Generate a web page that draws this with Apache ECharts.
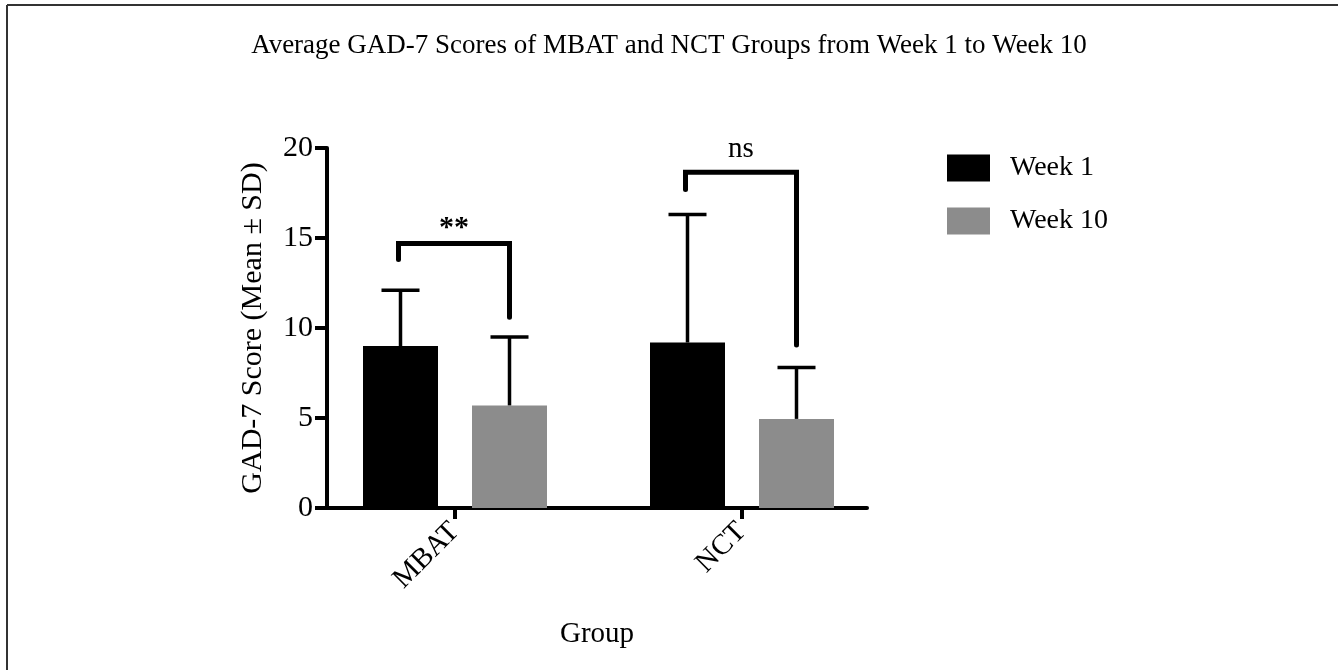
<!DOCTYPE html>
<html>
<head>
<meta charset="utf-8">
<script src="https://cdn.jsdelivr.net/npm/echarts@6/dist/echarts.min.js"></script>
<style>
html,body{margin:0;padding:0;background:#fff;}
#main{width:1338px;height:670px;}
</style>
</head>
<body>
<div id="main"></div>
<script>
// ---- data ----
const categories = ['MBAT', 'NCT'];
const groupPositions = [1, 2];
const week1Mean = [9.0, 9.2];
const week1SD = [3.1, 7.1];
const week10Mean = [5.7, 4.95];
const week10SD = [3.8, 2.85];
// bracket: [leftLegBottom, rightLegBottom, top]
const bracketLeftBottom = [13.8, 17.7];
const bracketRightBottom = [10.6, 9.05];
const bracketTop = [14.7, 18.65];
const significance = ['**', 'ns'];
const yTicks = [0, 5, 10, 15, 20];
const seriesNames = ['Week 1', 'Week 10'];

const FONT = "'Liberation Serif', 'Times New Roman', serif";
const BAR_W = 75, BAR_GAP = 34;
const HALF = (BAR_W + BAR_GAP) / 2;

const chart = echarts.init(document.getElementById('main'), null, {renderer: 'canvas'});

function barData(means) {
  return groupPositions.map((x, i) => [x, means[i]]);
}
function errData(means, sds) {
  return groupPositions.map((x, i) => [x, means[i], means[i] + sds[i]]);
}
function errorRender(dx) {
  return function (params, api) {
    const x = api.value(0);
    const base = api.coord([x, api.value(1)]);
    const top = api.coord([x, api.value(2)]);
    const cx = base[0] + dx;
    const style = {stroke: '#000', lineWidth: 3.5};
    return {
      type: 'group',
      children: [
        {type: 'line', shape: {x1: cx, y1: base[1], x2: cx, y2: top[1]}, style},
        {type: 'line', shape: {x1: cx - 19, y1: top[1], x2: cx + 19, y2: top[1]}, style}
      ]
    };
  };
}

const bracketData = groupPositions.map((x, i) => [x, bracketLeftBottom[i], bracketRightBottom[i], bracketTop[i], significance[i]]);

const option = {
  backgroundColor: '#fff',
  animation: false,
  title: {
    text: 'Average GAD-7 Scores of MBAT and NCT Groups from Week 1 to Week 10',
    left: 'center',
    top: 27,
    textStyle: {fontFamily: FONT, fontSize: 27, fontWeight: 'normal', color: '#000'}
  },
  legend: {
    orient: 'vertical',
    left: 947,
    top: 154,
    itemWidth: 43,
    itemHeight: 27,
    itemGap: 25,
    padding: 0,
    icon: 'rect',
    data: seriesNames,
    textStyle: {fontFamily: FONT, fontSize: 28, color: '#000', padding: [0, 0, 0, 15], lineHeight: 27}
  },
  grid: {left: 327, top: 148, width: 540, height: 360, containLabel: false},
  xAxis: {
    type: 'value',
    min: 1 - 128 / 287,
    max: 2 + 125 / 287,
    splitLine: {show: false},
    axisLine: {show: true, lineStyle: {color: '#000', width: 4}},
    axisTick: {show: true, inside: false, length: 11, lineStyle: {color: '#000', width: 4}, customValues: groupPositions},
    axisLabel: {
      customValues: groupPositions,
      rotate: 45,
      margin: 19,
      fontFamily: FONT,
      fontSize: 29,
      color: '#000',
      formatter: function (v) {
        const idx = groupPositions.indexOf(Math.round(v));
        return idx >= 0 ? categories[idx] : '';
      }
    },
    name: 'Group',
    nameLocation: 'middle',
    nameGap: 112,
    nameTextStyle: {fontFamily: FONT, fontSize: 29, color: '#000'}
  },
  yAxis: {
    type: 'value',
    min: yTicks[0],
    max: yTicks[yTicks.length - 1],
    interval: 5,
    splitLine: {show: false},
    axisLine: {show: true, lineStyle: {color: '#000', width: 4}},
    axisTick: {show: true, inside: false, length: 12, lineStyle: {color: '#000', width: 4}},
    axisLabel: {margin: 14, fontFamily: FONT, fontSize: 30, color: '#000'},
    name: 'GAD-7 Score (Mean ± SD)',
    nameLocation: 'middle',
    nameGap: 59,
    nameTextStyle: {fontFamily: FONT, fontSize: 30, color: '#000'}
  },
  series: [
    {
      name: seriesNames[0], type: 'bar', data: barData(week1Mean),
      barWidth: BAR_W, barGap: (BAR_GAP / BAR_W * 100) + '%',
      itemStyle: {color: '#000'}, z: 2
    },
    {
      name: seriesNames[1], type: 'bar', data: barData(week10Mean),
      barWidth: BAR_W, barGap: (BAR_GAP / BAR_W * 100) + '%',
      itemStyle: {color: '#8c8c8c'}, z: 2
    },
    {
      type: 'custom', name: 'err1', data: errData(week1Mean, week1SD),
      renderItem: errorRender(-HALF), z: 3, silent: true,
      encode: {x: 0, y: [1, 2]}
    },
    {
      type: 'custom', name: 'err10', data: errData(week10Mean, week10SD),
      renderItem: errorRender(HALF), z: 3, silent: true,
      encode: {x: 0, y: [1, 2]}
    },
    {
      type: 'custom', name: 'brackets', data: bracketData, silent: true, z: 4,
      encode: {x: 0, y: [1, 2, 3]},
      renderItem: function (params, api) {
        const x = api.value(0);
        const lb = api.coord([x, api.value(1)]);
        const rb = api.coord([x, api.value(2)]);
        const tp = api.coord([x, api.value(3)]);
        const lx = lb[0] - HALF - 2, rx = rb[0] + HALF;
        const label = bracketData[params.dataIndex][4];
        return {
          type: 'group',
          children: [
            {
              type: 'polyline',
              shape: {points: [[lx, lb[1]], [lx, tp[1]], [rx, tp[1]], [rx, rb[1]]]},
              style: {stroke: '#000', lineWidth: 5, lineCap: 'round', lineJoin: 'miter', fill: null}
            },
            {
              type: 'text',
              x: (lx + rx) / 2,
              y: tp[1] - (label === 'ns' ? 8 : 0),
              style: {text: label, fontFamily: FONT, fontSize: label === 'ns' ? 29 : 30, fontWeight: label === 'ns' ? 'normal' : 'bold', fill: '#000', align: 'center', verticalAlign: 'bottom'}
            }
          ]
        };
      }
    }
  ],
  graphic: [
    {type: 'line', shape: {x1: 7, y1: 5, x2: 1338, y2: 5}, style: {stroke: '#333', lineWidth: 2}, silent: true},
    {type: 'line', shape: {x1: 7, y1: 5, x2: 7, y2: 670}, style: {stroke: '#333', lineWidth: 2}, silent: true}
  ]
};
chart.setOption(option);
</script>
</body>
</html>
